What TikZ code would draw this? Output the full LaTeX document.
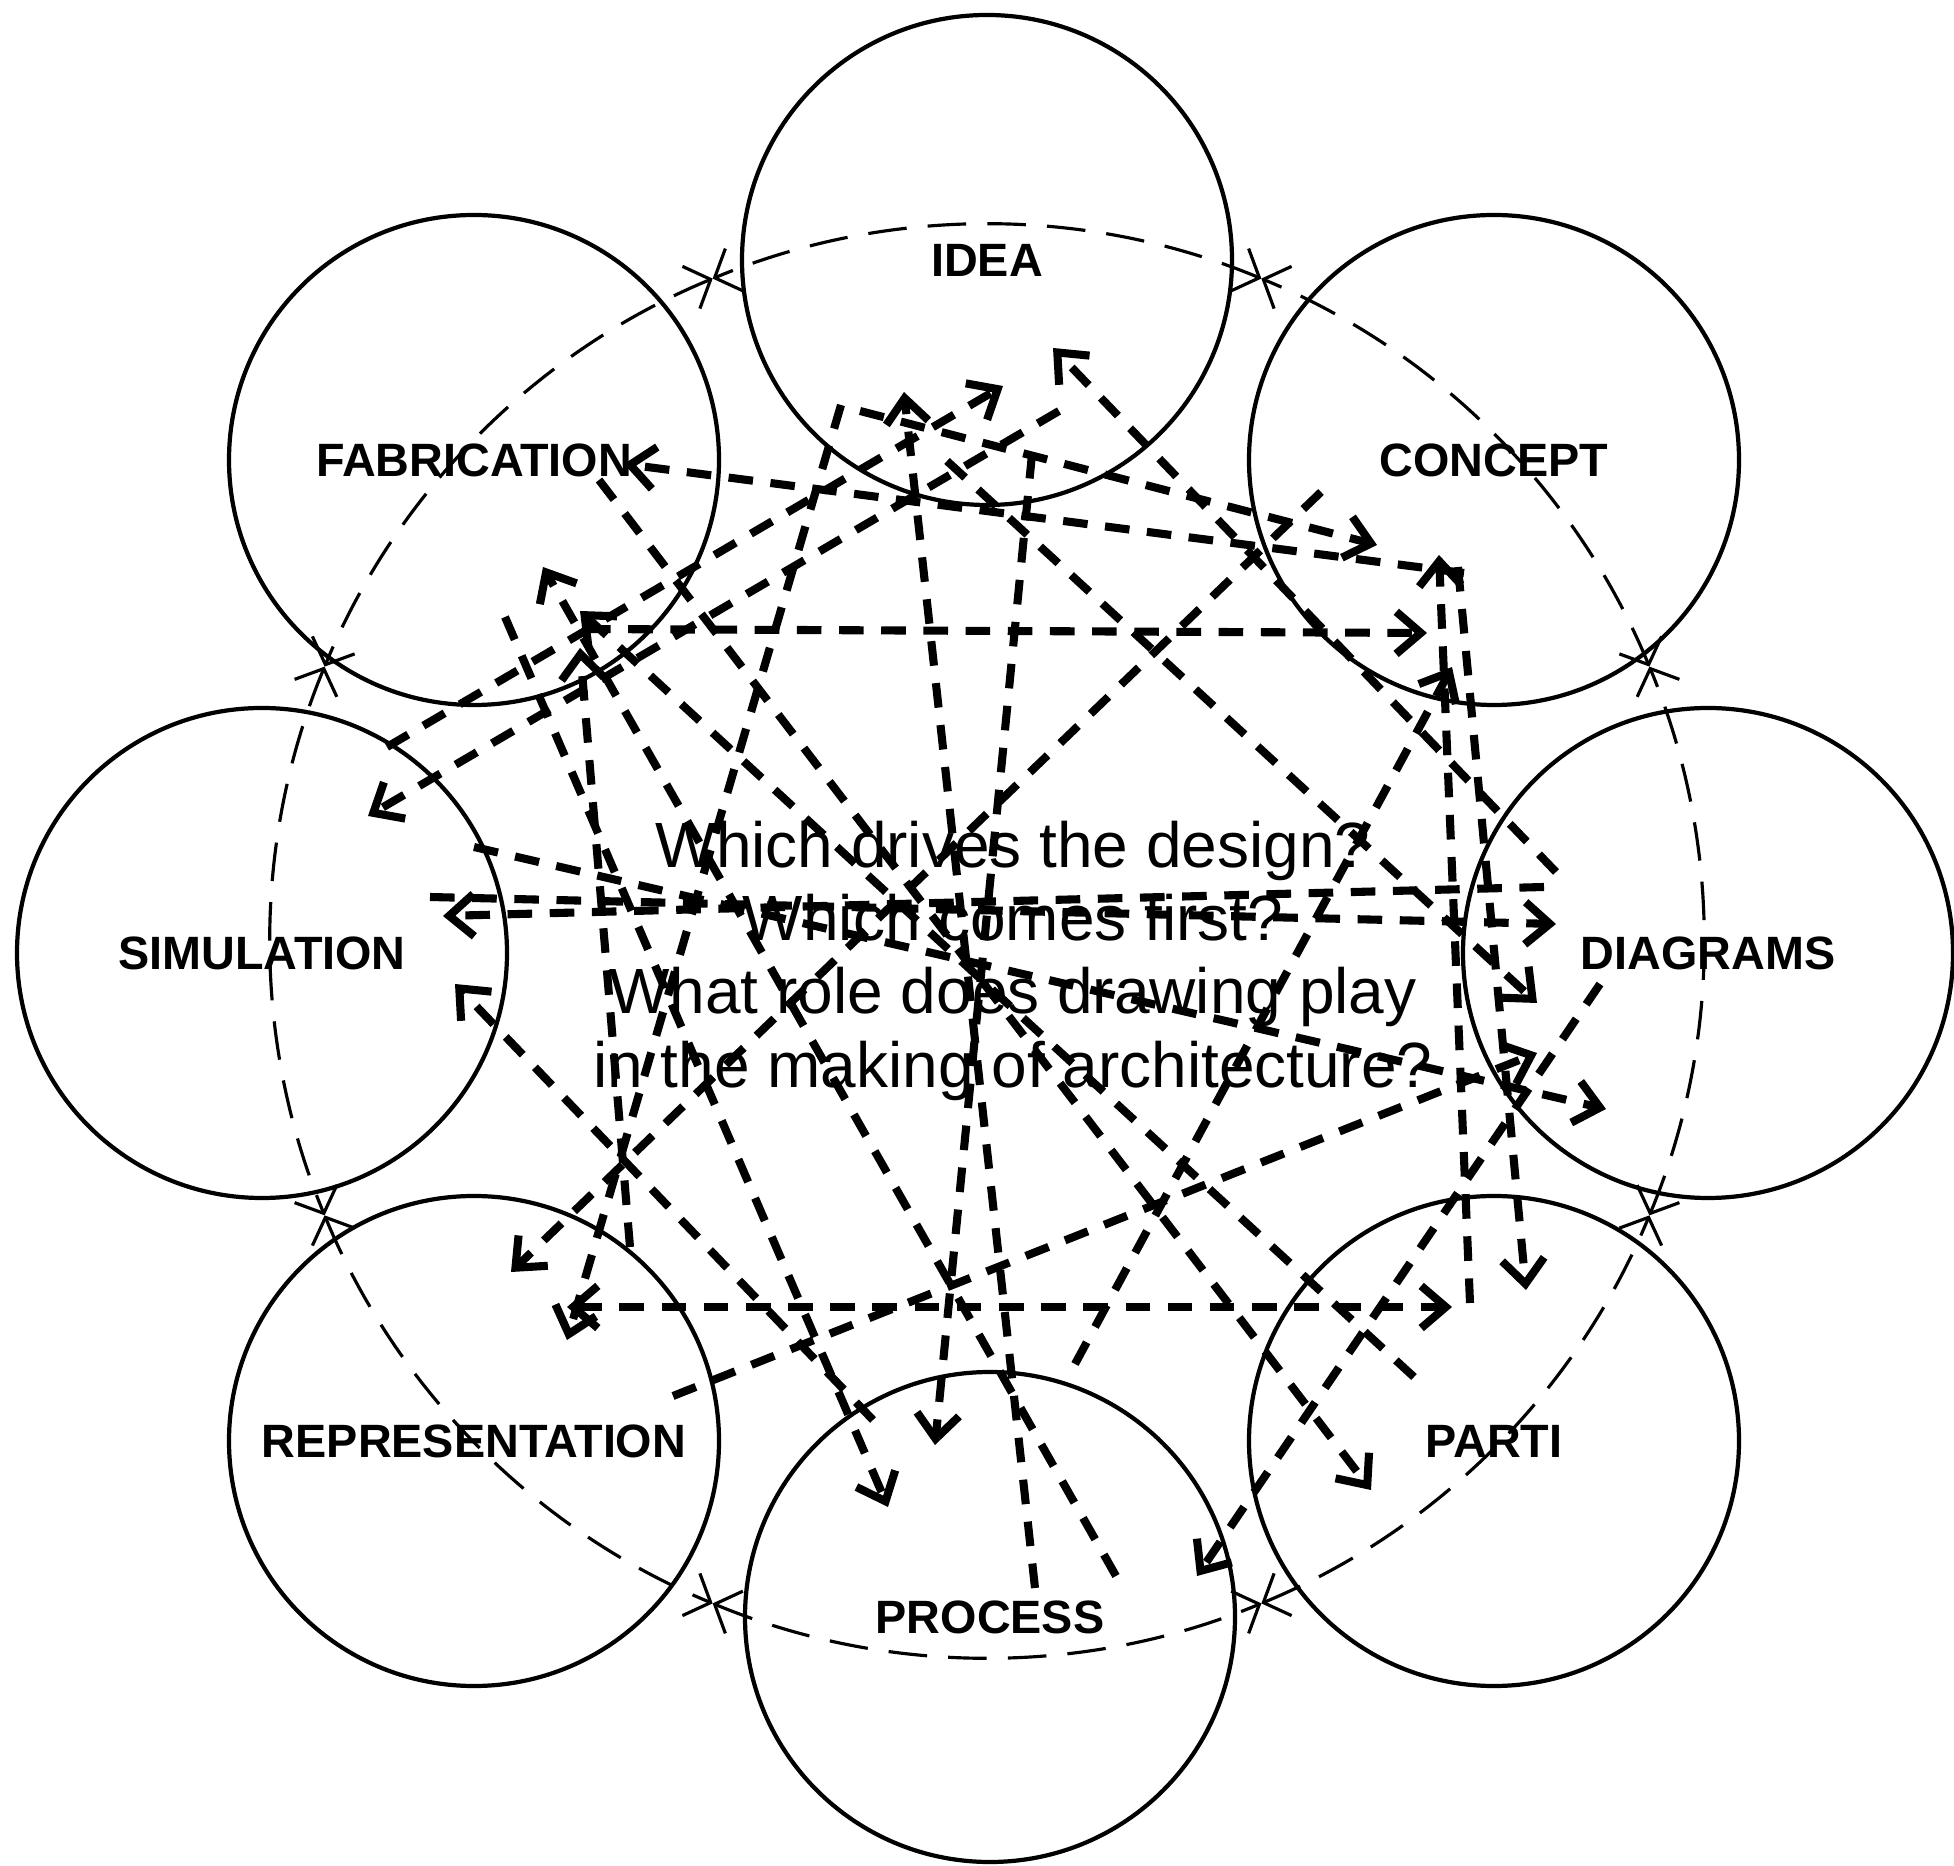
\documentclass[tikz,border=0pt]{standalone}
\usepackage{fontspec}
\setmainfont{Liberation Sans}
\usetikzlibrary{arrows.meta,calc}

\begin{document}
\begin{tikzpicture}[
  topic/.style={circle, draw, line width=1.2pt, minimum size=4.9cm, inner sep=0pt,
    font=\bfseries\fontsize{13.3}{16}\selectfont},
  ring/.style={line width=0.9pt, dash pattern=on 11pt off 6pt,
    {Straight Barb[length=6pt,width=13pt]}-{Straight Barb[length=6pt,width=13pt]}},
  flow/.style={line width=2.3pt, dash pattern=on 7pt off 5pt,
    -{Straight Barb[length=7pt,width=12pt]}}
]
\useasboundingbox (0,0) rectangle (19.54,-18.66);
% the eight topics
\foreach \name/\x/\y/\lab in {idea/9.87/-2.60/IDEA, concept/14.94/-4.60/CONCEPT,
  diagrams/17.08/-9.53/DIAGRAMS, parti/14.94/-14.41/PARTI, process/9.90/-16.17/PROCESS,
  repr/4.74/-14.41/REPRESENTATION, sim/2.62/-9.53/SIMULATION, fab/4.74/-4.60/FABRICATION} {
  \node[topic] (\name) at (\x,\y) {\lab};
}
% outer cycle
\coordinate (ctr) at (9.87,-9.41);
\foreach \a in {22.5,67.5,...,337.5} {
  \draw[ring] ($(ctr)+(\a:7.17)$) arc[start angle=\a, delta angle=45, radius=7.17];
}
% cross links
\foreach \from/\fx/\fy/\to/\tx/\ty in {
  diagrams/-1.52/0.81/idea/0.66/-0.88, sim/1.25/2.06/idea/0.16/-1.26,
  process/0.45/0.29/idea/-0.83/-1.32, idea/-1.27/-1.51/concept/-1.17/-0.85,
  fab/1.12/-1.69/concept/-0.67/-1.73, parti/-0.24/1.38/concept/-0.55/-0.95,
  process/0.85/2.53/concept/-0.42/-2.07, sim/1.68/0.56/diagrams/-1.52/0.29,
  idea/-0.40/-2.01/diagrams/-1.71/-0.50, repr/1.99/0.45/diagrams/-1.71/-1.00,
  sim/2.12/1.06/diagrams/-1.02/-1.56, concept/-0.36/-1.07/parti/0.32/1.51,
  fab/1.25/-0.20/parti/-1.23/-0.49, idea/0.45/-1.94/process/-0.55/1.72,
  fab/0.31/-1.57/process/-1.02/1.10, diagrams/-1.08/-0.31/process/2.07/0.41,
  concept/-1.73/-0.32/repr/0.37/1.69, idea/-1.46/-1.45/repr/0.93/1.01,
  idea/0.72/-1.51/sim/1.06/1.37, diagrams/-1.64/0.66/sim/1.81/0.37,
  process/-1.17/1.97/sim/1.93/-0.31, concept/-0.30/-1.13/fab/1.50/-0.04,
  process/1.26/0.41/fab/0.69/-1.07, parti/-0.80/0.64/fab/1.06/-1.51,
  repr/1.56/1.94/fab/1.06/-1.88} {
  \draw[flow] ($(\from)+(\fx,\fy)$) -- ($(\to)+(\tx,\ty)$);
}
\draw[flow, {Straight Barb[length=7pt,width=12pt]}-{Straight Barb[length=7pt,width=12pt]}]
  ($(repr)+(0.93,1.34)$) -- ($(parti)+(-0.42,1.34)$);
% central question
\node[align=center, anchor=north, inner sep=0pt, font=\fontsize{18.2}{20.9}\selectfont]
  (question) at (10.13,-8.20) {Which drives the design?\\Which comes first?\\
  What role does drawing play\\in the making of architecture?};
\end{tikzpicture}
\end{document}
